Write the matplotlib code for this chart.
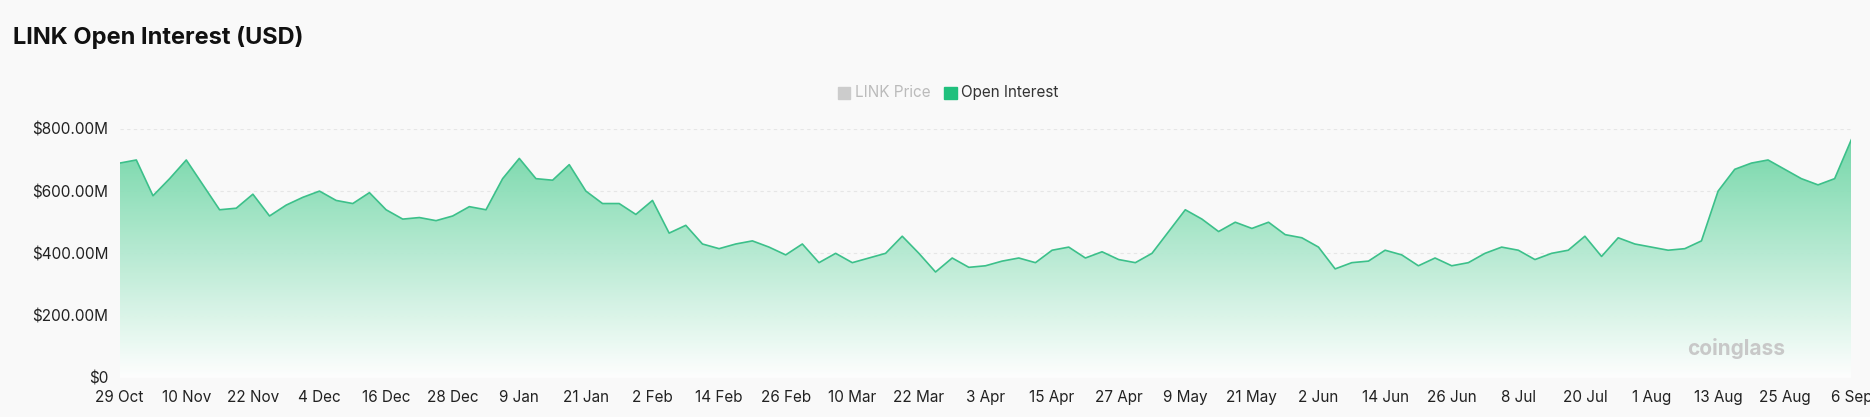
import numpy as np
import matplotlib.pyplot as plt
from matplotlib.patches import Rectangle
from matplotlib.colors import LinearSegmentedColormap

# open interest in millions USD, one value every 3 days from 29 Oct
oi = [690, 700, 585, 640, 700, 620, 540, 545, 590, 520, 555, 580,
      600, 570, 560, 595, 540, 510, 515, 505, 520, 550, 540, 640,
      705, 640, 635, 685, 600, 560, 560, 525, 570, 465, 490, 430,
      415, 430, 440, 420, 395, 430, 370, 400, 370, 385, 400, 455,
      400, 340, 385, 355, 360, 375, 385, 370, 410, 420, 385, 405,
      380, 370, 400, 470, 540, 510, 470, 500, 480, 500, 460, 450,
      420, 350, 370, 375, 410, 395, 360, 385, 360, 370, 400, 420,
      410, 380, 400, 410, 455, 390, 450, 430, 420, 410, 415, 440,
      600, 670, 690, 700, 670, 640, 620, 640, 765]
tick_labels = ['29 Oct', '10 Nov', '22 Nov', '4 Dec', '16 Dec', '28 Dec', '9 Jan',
               '21 Jan', '2 Feb', '14 Feb', '26 Feb', '10 Mar', '22 Mar', '3 Apr',
               '15 Apr', '27 Apr', '9 May', '21 May', '2 Jun', '14 Jun', '26 Jun',
               '8 Jul', '20 Jul', '1 Aug', '13 Aug', '25 Aug', '6 Sep']
y_ticks = [0, 200, 400, 600, 800]

days = np.arange(len(oi)) * 3
oi = np.array(oi)

plt.rcParams['font.family'] = ['Inter', 'DejaVu Sans']
fig = plt.figure(figsize=(18.70, 4.17), dpi=100, facecolor='#f9f9f9')
ax = fig.add_axes([0.064, 0.094, 0.926, 0.597], facecolor='#f9f9f9')

xmax = days[-1]
ax.set_xlim(0, xmax)
ax.set_ylim(0, 800)

# gradient fill clipped to area under the curve
grad = np.linspace(0, 1, 256).reshape(-1, 1)
cmap = LinearSegmentedColormap.from_list('g', ['#ffffff', '#6fd6a6'])
poly = ax.fill_between(days, oi, 0, color='none')
img = ax.imshow(grad, cmap=cmap, aspect='auto', extent=[0, xmax, 0, oi.max()],
                origin='lower', zorder=1, alpha=0.95)
img.set_clip_path(poly.get_paths()[0], transform=ax.transData)
ax.plot(days, oi, color='#3cc08a', lw=1.2, zorder=2)

ax.set_yticks(y_ticks)
ax.set_yticklabels(['$0'] + [f'${v:.2f}M' for v in y_ticks[1:]])
ax.set_xticks(np.arange(len(tick_labels)) * 12)
ax.set_xticklabels(tick_labels)
ax.tick_params(length=0, labelsize=11, colors='#222222')
ax.tick_params(axis='x', pad=9)
ax.tick_params(axis='y', pad=8)
ax.grid(axis='y', color='#e6e6e6', ls=(0, (3, 3)), lw=0.8)
ax.set_axisbelow(True)
for s in ax.spines.values():
    s.set_visible(False)

fig.text(0.007, 0.91, 'LINK Open Interest (USD)', fontsize=17, fontweight='bold',
         color='#111111', va='center')

# legend
fig.patches.append(Rectangle((0.448, 0.762), 0.0065, 0.029, transform=fig.transFigure,
                             color='#cccccc', figure=fig))
fig.text(0.457, 0.777, 'LINK Price', fontsize=11, color='#bbbbbb', va='center')
fig.patches.append(Rectangle((0.505, 0.762), 0.0065, 0.029, transform=fig.transFigure,
                             color='#20c07d', figure=fig))
fig.text(0.514, 0.777, 'Open Interest', fontsize=11, color='#333333', va='center')

fig.text(0.902, 0.165, 'coinglass', fontsize=15, fontweight='bold', color='#c8c8c8', va='center')

fig.savefig('out.png', dpi=100, facecolor=fig.get_facecolor())
